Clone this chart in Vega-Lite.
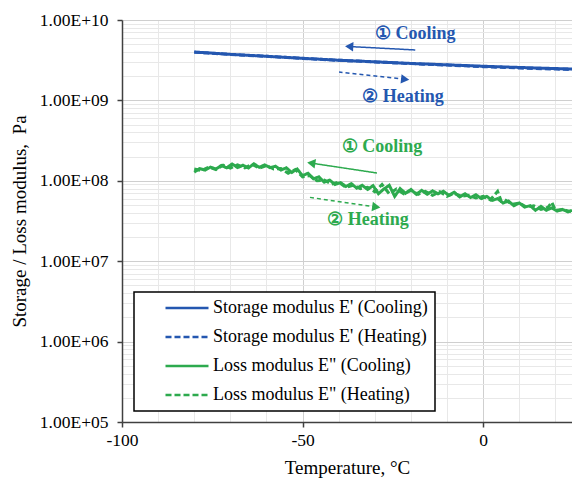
{
  "$schema": "https://vega.github.io/schema/vega-lite/v6.json",
  "width": 450,
  "height": 402,
  "autosize": {"type": "none"},
  "padding": {"left": 122, "top": 20, "right": 0, "bottom": 59},
  "config": {
    "font": "Liberation Serif",
    "view": {"stroke": null},
    "axis": {
      "labelFont": "Liberation Serif", "titleFont": "Liberation Serif",
      "labelColor": "#000", "titleColor": "#000",
      "domainColor": "#404040", "domainWidth": 1.5,
      "tickColor": "#404040", "tickWidth": 1.5, "tickSize": 5,
      "labelFontSize": 17.5, "titleFontSize": 19, "titleFontWeight": "normal",
      "labelOverlap": false, "labelFlush": false, "gridWidth": 1
    },
    "legend": {
      "orient": "none", "legendX": 12, "legendY": 272,
      "labelFont": "Liberation Serif",
      "symbolType": "M-4.3,0H4.3", "symbolSize": 100, "symbolStrokeWidth": 2.6,
      "labelFontSize": 18, "labelColor": "#000", "labelLimit": 0,
      "padding": 7, "rowPadding": 11, "symbolOffset": 37, "labelOffset": 17,
      "strokeColor": "#000", "fillColor": "#fff", "strokeWidth": 1.5
    }
  },
  "datasets": {
    "curves": [
      {"series": "Storage modulus E' (Cooling)", "T": -80, "E": 4.00e9},
      {"series": "Storage modulus E' (Cooling)", "T": -70, "E": 3.74e9},
      {"series": "Storage modulus E' (Cooling)", "T": -60, "E": 3.54e9},
      {"series": "Storage modulus E' (Cooling)", "T": -50, "E": 3.34e9},
      {"series": "Storage modulus E' (Cooling)", "T": -40, "E": 3.16e9},
      {"series": "Storage modulus E' (Cooling)", "T": -30, "E": 3.02e9},
      {"series": "Storage modulus E' (Cooling)", "T": -20, "E": 2.88e9},
      {"series": "Storage modulus E' (Cooling)", "T": -10, "E": 2.77e9},
      {"series": "Storage modulus E' (Cooling)", "T": 0, "E": 2.66e9},
      {"series": "Storage modulus E' (Cooling)", "T": 10, "E": 2.57e9},
      {"series": "Storage modulus E' (Cooling)", "T": 20, "E": 2.49e9},
      {"series": "Storage modulus E' (Cooling)", "T": 24.6, "E": 2.46e9},
      {"series": "Storage modulus E' (Heating)", "T": -80, "E": 3.98e9},
      {"series": "Storage modulus E' (Heating)", "T": -70, "E": 3.73e9},
      {"series": "Storage modulus E' (Heating)", "T": -60, "E": 3.53e9},
      {"series": "Storage modulus E' (Heating)", "T": -50, "E": 3.33e9},
      {"series": "Storage modulus E' (Heating)", "T": -40, "E": 3.15e9},
      {"series": "Storage modulus E' (Heating)", "T": -30, "E": 3.01e9},
      {"series": "Storage modulus E' (Heating)", "T": -20, "E": 2.87e9},
      {"series": "Storage modulus E' (Heating)", "T": -10, "E": 2.75e9},
      {"series": "Storage modulus E' (Heating)", "T": 0, "E": 2.63e9},
      {"series": "Storage modulus E' (Heating)", "T": 10, "E": 2.53e9},
      {"series": "Storage modulus E' (Heating)", "T": 20, "E": 2.45e9},
      {"series": "Storage modulus E' (Heating)", "T": 24.6, "E": 2.42e9},
      {"series": "Loss modulus E\" (Cooling)", "T": -80, "E": 1.28e8},
      {"series": "Loss modulus E\" (Cooling)", "T": -78.5, "E": 1.42e8},
      {"series": "Loss modulus E\" (Cooling)", "T": -77, "E": 1.36e8},
      {"series": "Loss modulus E\" (Cooling)", "T": -75.5, "E": 1.48e8},
      {"series": "Loss modulus E\" (Cooling)", "T": -74, "E": 1.40e8},
      {"series": "Loss modulus E\" (Cooling)", "T": -72.5, "E": 1.55e8},
      {"series": "Loss modulus E\" (Cooling)", "T": -71, "E": 1.45e8},
      {"series": "Loss modulus E\" (Cooling)", "T": -69.5, "E": 1.62e8},
      {"series": "Loss modulus E\" (Cooling)", "T": -68, "E": 1.46e8},
      {"series": "Loss modulus E\" (Cooling)", "T": -66.5, "E": 1.56e8},
      {"series": "Loss modulus E\" (Cooling)", "T": -65, "E": 1.44e8},
      {"series": "Loss modulus E\" (Cooling)", "T": -63.5, "E": 1.63e8},
      {"series": "Loss modulus E\" (Cooling)", "T": -62, "E": 1.47e8},
      {"series": "Loss modulus E\" (Cooling)", "T": -60.5, "E": 1.58e8},
      {"series": "Loss modulus E\" (Cooling)", "T": -59, "E": 1.46e8},
      {"series": "Loss modulus E\" (Cooling)", "T": -57.5, "E": 1.52e8},
      {"series": "Loss modulus E\" (Cooling)", "T": -56, "E": 1.36e8},
      {"series": "Loss modulus E\" (Cooling)", "T": -54.5, "E": 1.45e8},
      {"series": "Loss modulus E\" (Cooling)", "T": -53, "E": 1.27e8},
      {"series": "Loss modulus E\" (Cooling)", "T": -51.5, "E": 1.40e8},
      {"series": "Loss modulus E\" (Cooling)", "T": -50, "E": 1.16e8},
      {"series": "Loss modulus E\" (Cooling)", "T": -48.5, "E": 1.24e8},
      {"series": "Loss modulus E\" (Cooling)", "T": -47, "E": 1.06e8},
      {"series": "Loss modulus E\" (Cooling)", "T": -45.5, "E": 1.12e8},
      {"series": "Loss modulus E\" (Cooling)", "T": -44, "E": 9.6e7},
      {"series": "Loss modulus E\" (Cooling)", "T": -42.5, "E": 1.02e8},
      {"series": "Loss modulus E\" (Cooling)", "T": -41, "E": 9.0e7},
      {"series": "Loss modulus E\" (Cooling)", "T": -39.5, "E": 9.5e7},
      {"series": "Loss modulus E\" (Cooling)", "T": -38, "E": 8.5e7},
      {"series": "Loss modulus E\" (Cooling)", "T": -36.5, "E": 9.2e7},
      {"series": "Loss modulus E\" (Cooling)", "T": -35, "E": 8.1e7},
      {"series": "Loss modulus E\" (Cooling)", "T": -33.5, "E": 8.8e7},
      {"series": "Loss modulus E\" (Cooling)", "T": -32, "E": 7.8e7},
      {"series": "Loss modulus E\" (Cooling)", "T": -30.5, "E": 8.7e7},
      {"series": "Loss modulus E\" (Cooling)", "T": -29, "E": 6.9e7},
      {"series": "Loss modulus E\" (Cooling)", "T": -27.5, "E": 7.9e7},
      {"series": "Loss modulus E\" (Cooling)", "T": -26, "E": 8.8e7},
      {"series": "Loss modulus E\" (Cooling)", "T": -24.5, "E": 6.4e7},
      {"series": "Loss modulus E\" (Cooling)", "T": -23, "E": 8.0e7},
      {"series": "Loss modulus E\" (Cooling)", "T": -21.5, "E": 7.0e7},
      {"series": "Loss modulus E\" (Cooling)", "T": -20, "E": 7.8e7},
      {"series": "Loss modulus E\" (Cooling)", "T": -18.5, "E": 6.8e7},
      {"series": "Loss modulus E\" (Cooling)", "T": -17, "E": 7.6e7},
      {"series": "Loss modulus E\" (Cooling)", "T": -15.5, "E": 6.8e7},
      {"series": "Loss modulus E\" (Cooling)", "T": -14, "E": 7.5e7},
      {"series": "Loss modulus E\" (Cooling)", "T": -12.5, "E": 6.9e7},
      {"series": "Loss modulus E\" (Cooling)", "T": -11, "E": 7.4e7},
      {"series": "Loss modulus E\" (Cooling)", "T": -9.5, "E": 6.6e7},
      {"series": "Loss modulus E\" (Cooling)", "T": -8, "E": 7.2e7},
      {"series": "Loss modulus E\" (Cooling)", "T": -6.5, "E": 6.3e7},
      {"series": "Loss modulus E\" (Cooling)", "T": -5, "E": 6.9e7},
      {"series": "Loss modulus E\" (Cooling)", "T": -3.5, "E": 6.2e7},
      {"series": "Loss modulus E\" (Cooling)", "T": -2, "E": 6.7e7},
      {"series": "Loss modulus E\" (Cooling)", "T": -0.5, "E": 6.0e7},
      {"series": "Loss modulus E\" (Cooling)", "T": 1, "E": 6.4e7},
      {"series": "Loss modulus E\" (Cooling)", "T": 2.5, "E": 5.7e7},
      {"series": "Loss modulus E\" (Cooling)", "T": 4, "E": 6.0e7},
      {"series": "Loss modulus E\" (Cooling)", "T": 5.5, "E": 5.3e7},
      {"series": "Loss modulus E\" (Cooling)", "T": 7, "E": 5.6e7},
      {"series": "Loss modulus E\" (Cooling)", "T": 8.5, "E": 4.9e7},
      {"series": "Loss modulus E\" (Cooling)", "T": 10, "E": 5.3e7},
      {"series": "Loss modulus E\" (Cooling)", "T": 11.5, "E": 4.7e7},
      {"series": "Loss modulus E\" (Cooling)", "T": 13, "E": 4.9e7},
      {"series": "Loss modulus E\" (Cooling)", "T": 14.5, "E": 4.3e7},
      {"series": "Loss modulus E\" (Cooling)", "T": 16, "E": 4.8e7},
      {"series": "Loss modulus E\" (Cooling)", "T": 17.5, "E": 4.3e7},
      {"series": "Loss modulus E\" (Cooling)", "T": 19, "E": 4.6e7},
      {"series": "Loss modulus E\" (Cooling)", "T": 20.5, "E": 4.2e7},
      {"series": "Loss modulus E\" (Cooling)", "T": 22, "E": 4.4e7},
      {"series": "Loss modulus E\" (Cooling)", "T": 23.5, "E": 4.1e7},
      {"series": "Loss modulus E\" (Cooling)", "T": 24.6, "E": 4.3e7},
      {"series": "Loss modulus E\" (Heating)", "T": -80, "E": 1.40e8},
      {"series": "Loss modulus E\" (Heating)", "T": -78, "E": 1.34e8},
      {"series": "Loss modulus E\" (Heating)", "T": -76, "E": 1.48e8},
      {"series": "Loss modulus E\" (Heating)", "T": -74, "E": 1.38e8},
      {"series": "Loss modulus E\" (Heating)", "T": -72, "E": 1.56e8},
      {"series": "Loss modulus E\" (Heating)", "T": -70, "E": 1.44e8},
      {"series": "Loss modulus E\" (Heating)", "T": -68, "E": 1.58e8},
      {"series": "Loss modulus E\" (Heating)", "T": -66, "E": 1.45e8},
      {"series": "Loss modulus E\" (Heating)", "T": -64, "E": 1.60e8},
      {"series": "Loss modulus E\" (Heating)", "T": -62, "E": 1.44e8},
      {"series": "Loss modulus E\" (Heating)", "T": -60, "E": 1.55e8},
      {"series": "Loss modulus E\" (Heating)", "T": -58, "E": 1.40e8},
      {"series": "Loss modulus E\" (Heating)", "T": -56, "E": 1.42e8},
      {"series": "Loss modulus E\" (Heating)", "T": -54, "E": 1.24e8},
      {"series": "Loss modulus E\" (Heating)", "T": -52, "E": 1.38e8},
      {"series": "Loss modulus E\" (Heating)", "T": -50, "E": 1.12e8},
      {"series": "Loss modulus E\" (Heating)", "T": -48, "E": 1.16e8},
      {"series": "Loss modulus E\" (Heating)", "T": -46, "E": 1.00e8},
      {"series": "Loss modulus E\" (Heating)", "T": -44, "E": 1.02e8},
      {"series": "Loss modulus E\" (Heating)", "T": -42, "E": 9.1e7},
      {"series": "Loss modulus E\" (Heating)", "T": -40, "E": 9.6e7},
      {"series": "Loss modulus E\" (Heating)", "T": -38, "E": 8.3e7},
      {"series": "Loss modulus E\" (Heating)", "T": -36, "E": 8.8e7},
      {"series": "Loss modulus E\" (Heating)", "T": -34, "E": 8.0e7},
      {"series": "Loss modulus E\" (Heating)", "T": -32, "E": 8.3e7},
      {"series": "Loss modulus E\" (Heating)", "T": -30, "E": 7.3e7},
      {"series": "Loss modulus E\" (Heating)", "T": -28, "E": 9.0e7},
      {"series": "Loss modulus E\" (Heating)", "T": -26, "E": 6.9e7},
      {"series": "Loss modulus E\" (Heating)", "T": -24, "E": 7.9e7},
      {"series": "Loss modulus E\" (Heating)", "T": -22, "E": 6.9e7},
      {"series": "Loss modulus E\" (Heating)", "T": -20, "E": 7.6e7},
      {"series": "Loss modulus E\" (Heating)", "T": -18, "E": 6.8e7},
      {"series": "Loss modulus E\" (Heating)", "T": -16, "E": 7.4e7},
      {"series": "Loss modulus E\" (Heating)", "T": -14, "E": 6.6e7},
      {"series": "Loss modulus E\" (Heating)", "T": -12, "E": 7.3e7},
      {"series": "Loss modulus E\" (Heating)", "T": -10, "E": 6.4e7},
      {"series": "Loss modulus E\" (Heating)", "T": -8, "E": 7.0e7},
      {"series": "Loss modulus E\" (Heating)", "T": -6, "E": 6.4e7},
      {"series": "Loss modulus E\" (Heating)", "T": -4, "E": 6.6e7},
      {"series": "Loss modulus E\" (Heating)", "T": -2, "E": 6.1e7},
      {"series": "Loss modulus E\" (Heating)", "T": 0, "E": 6.4e7},
      {"series": "Loss modulus E\" (Heating)", "T": 2, "E": 5.8e7},
      {"series": "Loss modulus E\" (Heating)", "T": 4, "E": 7.4e7},
      {"series": "Loss modulus E\" (Heating)", "T": 5, "E": 5.6e7},
      {"series": "Loss modulus E\" (Heating)", "T": 6, "E": 5.8e7},
      {"series": "Loss modulus E\" (Heating)", "T": 8, "E": 5.1e7},
      {"series": "Loss modulus E\" (Heating)", "T": 10, "E": 5.3e7},
      {"series": "Loss modulus E\" (Heating)", "T": 12, "E": 4.7e7},
      {"series": "Loss modulus E\" (Heating)", "T": 14, "E": 4.9e7},
      {"series": "Loss modulus E\" (Heating)", "T": 16, "E": 4.4e7},
      {"series": "Loss modulus E\" (Heating)", "T": 18, "E": 4.7e7},
      {"series": "Loss modulus E\" (Heating)", "T": 19, "E": 5.4e7},
      {"series": "Loss modulus E\" (Heating)", "T": 20, "E": 4.3e7},
      {"series": "Loss modulus E\" (Heating)", "T": 22, "E": 4.4e7},
      {"series": "Loss modulus E\" (Heating)", "T": 24.6, "E": 4.1e7}
    ],
    "labels": [
      {"text": "① Cooling", "T": -18.8, "E": 6.7e9, "group": "storage"},
      {"text": "② Heating", "T": -22.2, "E": 1.10e9, "group": "storage"},
      {"text": "① Cooling", "T": -28, "E": 2.63e8, "group": "loss"},
      {"text": "② Heating", "T": -31.9, "E": 3.25e7, "group": "loss"}
    ],
    "arrows": [
      {"id": "bc", "group": "storage", "dir": "cooling", "T0": -18.8, "E0": 4.24e9, "T": -37.1, "E": 4.68e9},
      {"id": "bh", "group": "storage", "dir": "heating", "T0": -39.9, "E0": 2.25e9, "T": -21.6, "E": 1.83e9},
      {"id": "gc", "group": "loss", "dir": "cooling", "T0": -29.4, "E0": 1.25e8, "T": -47.6, "E": 1.66e8},
      {"id": "gh", "group": "loss", "dir": "heating", "T0": -48.8, "E0": 6.3e7, "T": -29.6, "E": 4.72e7}
    ]
  },
  "encoding": {
    "x": {
      "field": "T", "type": "quantitative",
      "scale": {"domain": [-100, 24.6], "nice": false, "zero": false},
      "axis": {
        "title": "Temperature, °C",
        "values": [-100, -90, -80, -70, -60, -50, -40, -30, -20, -10, 0, 10, 20],
        "labelExpr": "datum.value % 50 === 0 ? '' + datum.value : ''",
        "grid": true,
        "gridColor": {"condition": {"test": "datum.value % 50 === 0", "value": "#cfcfcf"}, "value": "#e8e8e8"},
        "tickOpacity": {"condition": {"test": "datum.value % 50 === 0", "value": 1}, "value": 0},
        "labelPadding": 4, "titlePadding": 10
      }
    },
    "y": {
      "field": "E", "type": "quantitative",
      "scale": {"type": "log", "domain": [1e5, 1e10], "nice": false},
      "axis": {
        "title": "Storage / Loss modulus, \u00a0Pa",
        "values": [100000, 200000, 300000, 400000, 500000, 600000, 700000, 800000, 900000,
                   1000000, 2000000, 3000000, 4000000, 5000000, 6000000, 7000000, 8000000, 9000000,
                   10000000, 20000000, 30000000, 40000000, 50000000, 60000000, 70000000, 80000000, 90000000,
                   100000000, 200000000, 300000000, 400000000, 500000000, 600000000, 700000000, 800000000, 900000000,
                   1000000000, 2000000000, 3000000000, 4000000000, 5000000000, 6000000000, 7000000000, 8000000000, 9000000000,
                   10000000000],
        "labelExpr": "abs(log(datum.value)/LN10 - round(log(datum.value)/LN10)) < 1e-6 ? '1.00E+' + (round(log(datum.value)/LN10) < 10 ? '0' : '') + round(log(datum.value)/LN10) : ''",
        "grid": true,
        "gridColor": {"condition": {"test": "abs(log(datum.value)/LN10 - round(log(datum.value)/LN10)) < 1e-6", "value": "#cfcfcf"}, "value": "#e8e8e8"},
        "tickOpacity": {"condition": {"test": "abs(log(datum.value)/LN10 - round(log(datum.value)/LN10)) < 1e-6", "value": 1}, "value": 0},
        "labelPadding": 9, "titlePadding": 10
      }
    }
  },
  "layer": [
    {
      "data": {"name": "curves"},
      "mark": {"type": "line", "strokeWidth": 3, "clip": true},
      "encoding": {
        "color": {
          "field": "series", "type": "nominal",
          "scale": {
            "domain": ["Storage modulus E' (Cooling)", "Storage modulus E' (Heating)", "Loss modulus E\" (Cooling)", "Loss modulus E\" (Heating)"],
            "range": ["#2457B0", "#2457B0", "#2DAA4E", "#2DAA4E"]
          },
          "legend": {"title": null}
        },
        "strokeDash": {
          "field": "series", "type": "nominal",
          "scale": {
            "domain": ["Storage modulus E' (Cooling)", "Storage modulus E' (Heating)", "Loss modulus E\" (Cooling)", "Loss modulus E\" (Heating)"],
            "range": [[1, 0], [6, 3], [1, 0], [6, 3]]
          },
          "legend": {"title": null}
        }
      }
    },
    {
      "data": {"name": "arrows"},
      "mark": {"type": "rule", "strokeWidth": 1.5},
      "encoding": {
        "x2": {"field": "T0"},
        "y2": {"field": "E0"},
        "color": {"condition": {"test": "datum.group === 'storage'", "value": "#2457B0"}, "value": "#2DAA4E"},
        "strokeDash": {"condition": {"test": "datum.dir === 'heating'", "value": [4, 3]}, "value": [1, 0]}
      }
    },
    {
      "data": {"name": "arrows"},
      "mark": {"type": "point", "shape": "triangle-left", "filled": true, "opacity": 1, "size": 90},
      "encoding": {
        "color": {"condition": {"test": "datum.group === 'storage'", "value": "#2457B0"}, "value": "#2DAA4E"},
        "angle": {
          "condition": [
            {"test": "datum.id === 'bc'", "value": 3},
            {"test": "datum.id === 'bh'", "value": 186},
            {"test": "datum.id === 'gc'", "value": 9}
          ],
          "value": 188
        }
      }
    },
    {
      "data": {"name": "labels"},
      "mark": {"type": "text", "font": "Liberation Serif", "fontSize": 18, "fontWeight": "bold", "align": "center", "baseline": "middle"},
      "encoding": {
        "text": {"field": "text"},
        "color": {"condition": {"test": "datum.group === 'storage'", "value": "#2457B0"}, "value": "#2DAA4E"}
      }
    }
  ]
}
